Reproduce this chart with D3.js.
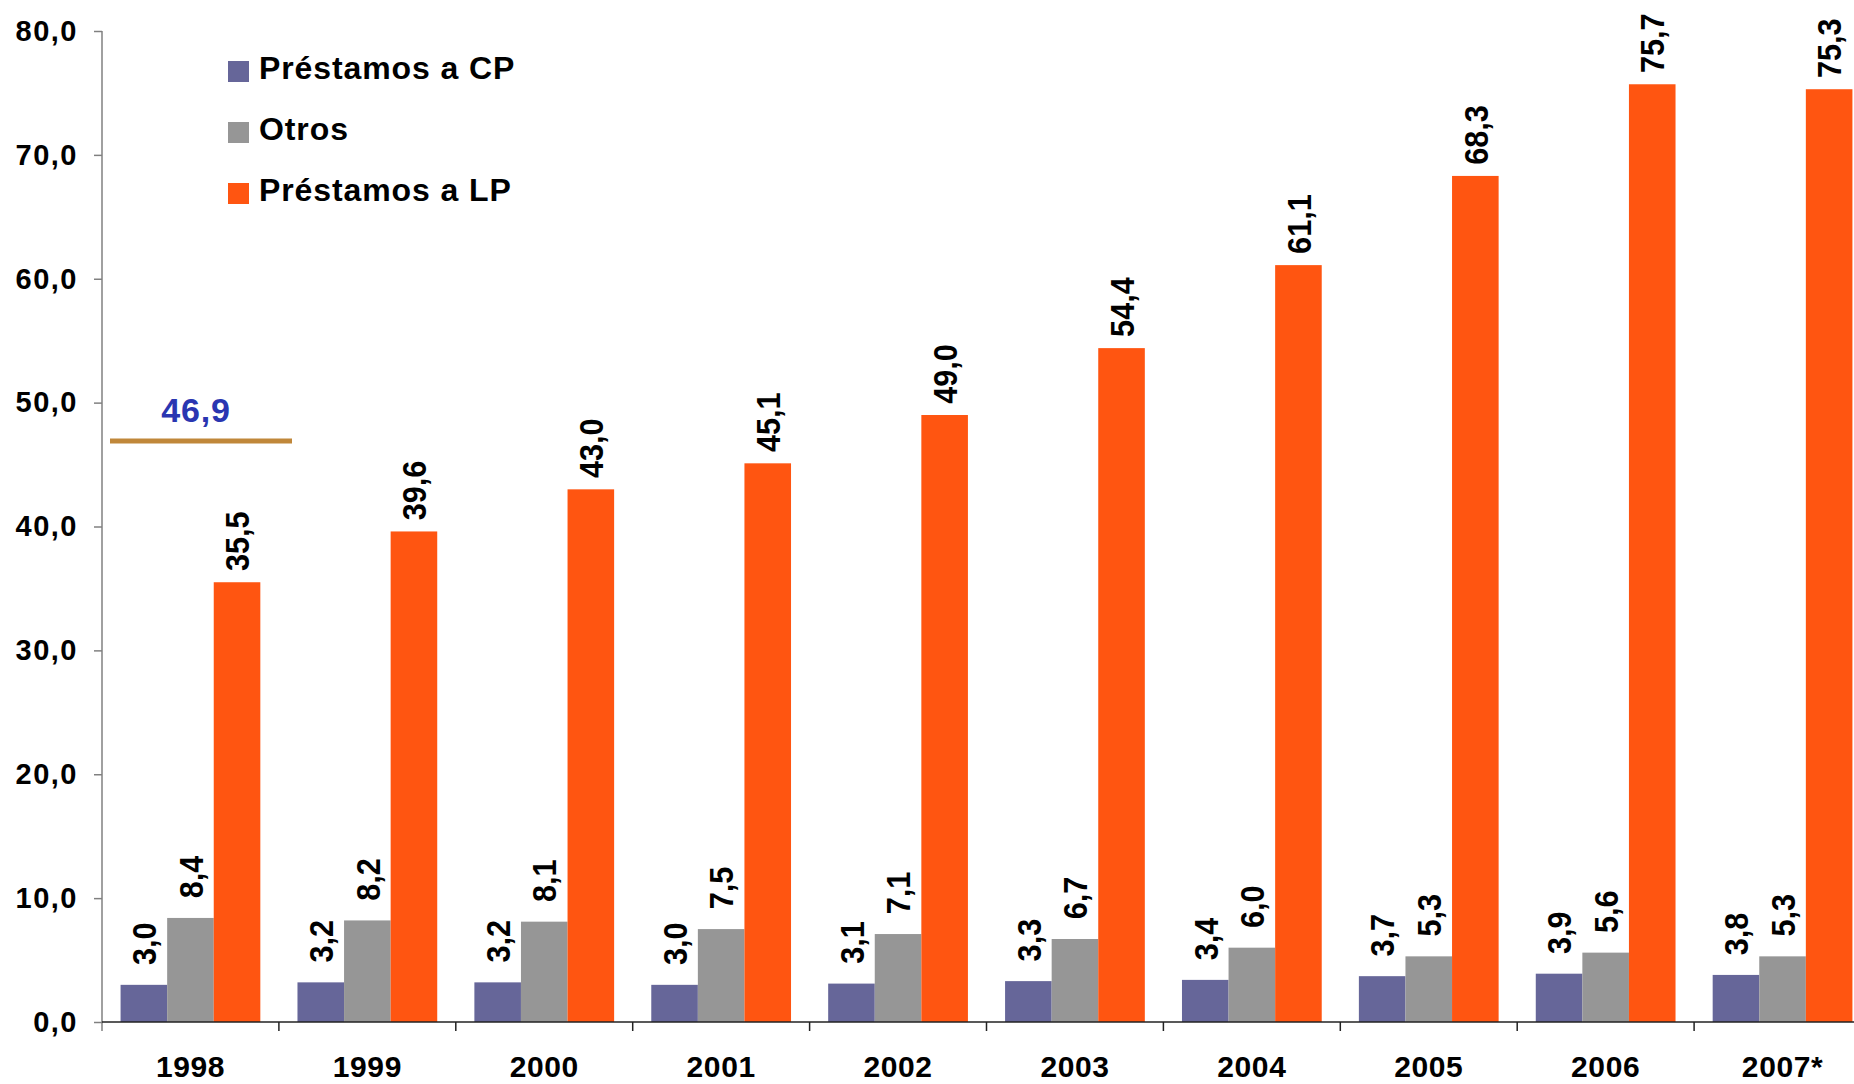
<!DOCTYPE html>
<html>
<head>
<meta charset="utf-8">
<script src="https://cdn.jsdelivr.net/npm/d3@7"></script>
<style>
  html, body { margin: 0; padding: 0; background: #fff; }
  svg { display: block; }
  text { font-family: "Liberation Sans", Arial, sans-serif; font-weight: bold; }
</style>
</head>
<body>
<svg id="chart" width="1854" height="1084"></svg>
<script>
// Categories and series
const years = ["1998", "1999", "2000", "2001", "2002", "2003", "2004", "2005", "2006", "2007*"];
const seriesNames = ["Préstamos a CP", "Otros", "Préstamos a LP"];
const prestamosCP = [3.0, 3.2, 3.2, 3.0, 3.1, 3.3, 3.4, 3.7, 3.9, 3.8];
const otros = [8.4, 8.2, 8.1, 7.5, 7.1, 6.7, 6.0, 5.3, 5.6, 5.3];
const prestamosLP = [35.5, 39.6, 43.0, 45.1, 49.0, 54.4, 61.1, 68.3, 75.7, 75.3];
const yTicks = [0, 10, 20, 30, 40, 50, 60, 70, 80];
const seriesColors = ["#666699", "#969696", "#FF5511"];

// 1998 total, shown as a reference level over the first group
const total1998 = +(prestamosCP[0] + otros[0] + prestamosLP[0]).toFixed(1);

const svg = d3.select("#chart");
const W = 1854, H = 1084;
const plotLeft = 102, plotTop = 31, plotBottom = 1022, plotRight = 1871;

const locale = d3.formatLocale({ decimal: ",", thousands: ".", grouping: [3], currency: ["", "€"] });
const fmt = locale.format(".1f");

const x0 = d3.scaleBand().domain(years).range([plotLeft, plotRight]).paddingInner(0.21).paddingOuter(0.105);
const x1 = d3.scaleBand().domain(seriesNames).range([0, x0.bandwidth()]).padding(0);
const y = d3.scaleLinear().domain([0, 80]).range([plotBottom, plotTop]);

const seriesValues = [prestamosCP, otros, prestamosLP];
const rows = years.map((yr, i) => ({ year: yr, values: seriesNames.map((s, k) => ({ key: s, k, value: seriesValues[k][i] })) }));

// Bars
const groups = svg.append("g").selectAll("g").data(rows).join("g")
  .attr("transform", d => `translate(${x0(d.year)},0)`);

groups.selectAll("rect").data(d => d.values).join("rect")
  .attr("x", d => x1(d.key))
  .attr("y", d => y(d.value))
  .attr("width", x1.bandwidth())
  .attr("height", d => y(0) - y(d.value))
  .attr("fill", d => seriesColors[d.k]);

// Rotated value labels, centred a fixed distance above each bar
const labelSize = 34;
groups.selectAll("text.val").data(d => d.values).join("text")
  .attr("class", "val")
  .attr("transform", d => `translate(${x1(d.key) + x1.bandwidth() / 2 + labelSize * 0.36},${y(d.value) - 41}) rotate(-90) scale(0.9,1)`)
  .attr("text-anchor", "middle")
  .attr("font-size", labelSize)
  .attr("fill", "#000")
  .text(d => fmt(d.value));

// Y axis
const yAxis = svg.append("g")
  .attr("transform", `translate(${plotLeft},0)`)
  .call(d3.axisLeft(y).tickValues(yTicks).tickSize(8).tickPadding(16).tickFormat(fmt));
yAxis.select(".domain").attr("stroke", "#808080").attr("stroke-width", 1.5)
  .attr("d", `M0,${plotTop}V${plotBottom + 9}`);
yAxis.selectAll(".tick line").attr("stroke", "#808080").attr("stroke-width", 1.5);
yAxis.selectAll(".tick text")
  .attr("font-size", 29).attr("letter-spacing", 1.5).attr("fill", "#000")
  .attr("font-family", "Liberation Sans, Arial, sans-serif").attr("font-weight", "bold");

// X axis: labels centred on each group, ticks at group boundaries
const xAxis = svg.append("g")
  .attr("transform", `translate(0,${plotBottom})`)
  .call(d3.axisBottom(x0).tickSize(0).tickPadding(34));
xAxis.select(".domain").remove();
xAxis.selectAll(".tick text")
  .attr("font-size", 30).attr("letter-spacing", 0.6).attr("fill", "#000")
  .attr("font-family", "Liberation Sans, Arial, sans-serif").attr("font-weight", "bold");

const step = x0.step();
const boundaries = years.map(d => x0(d) - step * x0.paddingInner() / 2);
svg.append("g").selectAll("line").data(boundaries.slice(1)).join("line")
  .attr("x1", d => d).attr("x2", d => d)
  .attr("y1", plotBottom).attr("y2", plotBottom + 9)
  .attr("stroke", "#222").attr("stroke-width", 1.5);
svg.append("line")
  .attr("x1", plotLeft).attr("x2", W)
  .attr("y1", y(0)).attr("y2", y(0))
  .attr("stroke", "#222").attr("stroke-width", 1.5);

// Reference level for the 1998 total
const refX0 = plotLeft + 8, refX1 = plotLeft + 190;
svg.append("line")
  .attr("x1", refX0).attr("x2", refX1)
  .attr("y1", y(total1998)).attr("y2", y(total1998))
  .attr("stroke", "#C0873A").attr("stroke-width", 5);
svg.append("text")
  .attr("x", (refX0 + refX1) / 2 - 5).attr("y", y(total1998) - 19)
  .attr("text-anchor", "middle")
  .attr("font-size", 34).attr("letter-spacing", 0.8).attr("fill", "#2A36B1")
  .text(fmt(total1998));

// Legend
const legend = svg.append("g").selectAll("g").data(seriesNames).join("g")
  .attr("transform", (d, i) => `translate(228,${61 + i * 61})`);
legend.append("rect").attr("width", 21).attr("height", 21).attr("fill", (d, i) => seriesColors[i]);
legend.append("text")
  .attr("x", 31).attr("y", 18)
  .attr("font-size", 32).attr("letter-spacing", 0.9).attr("fill", "#000")
  .text(d => d);
</script>
</body>
</html>
